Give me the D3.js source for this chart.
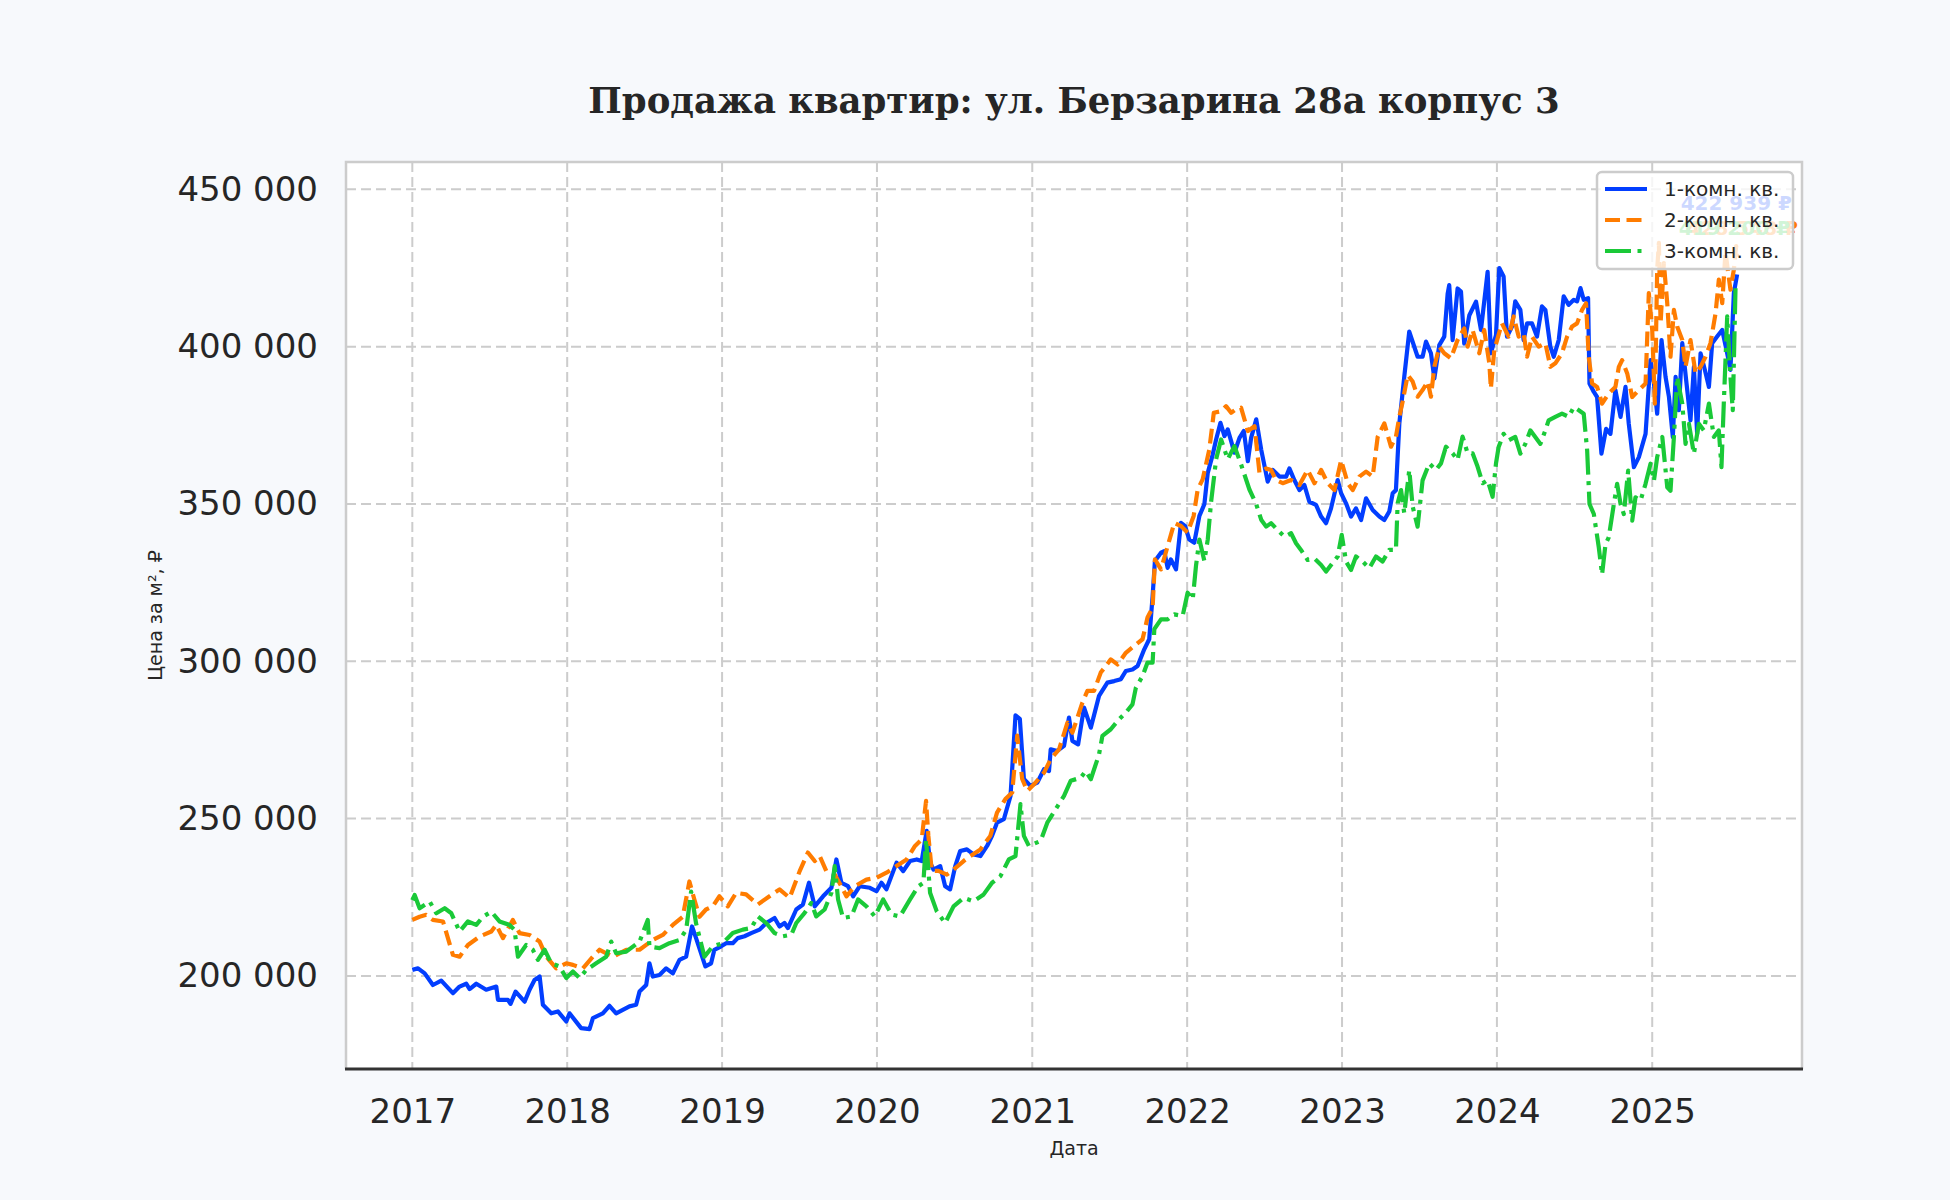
<!DOCTYPE html>
<html>
<head>
<meta charset="utf-8">
<script src="https://cdn.jsdelivr.net/npm/d3@7"></script>
<style>
  html, body { margin: 0; padding: 0; background: #f7f9fc; }
  svg { display: block; }
</style>
</head>
<body>
<div id="chart"></div>
<script>
// Продажа квартир: ул. Берзарина 28а корпус 3 — цена за м² по типу квартир

const seriesNames = ["1-комн. кв.", "2-комн. кв.", "3-комн. кв."];
const yearTicks = [2017, 2018, 2019, 2020, 2021, 2022, 2023, 2024, 2025];
const priceTicks = [200000, 250000, 300000, 350000, 400000, 450000];

// dates are decimal years
const oneRoomYears = [
  2017.000,2017.037,2017.080,2017.133,2017.187,2017.262,2017.305,2017.348,2017.370,2017.413,
  2017.477,2017.542,2017.553,2017.617,2017.634,2017.667,2017.725,2017.757,2017.789,2017.822,
  2017.843,2017.897,2017.940,2017.994,2018.015,2018.090,2018.144,2018.166,2018.230,2018.273,
  2018.316,2018.402,2018.445,2018.467,2018.510,2018.531,2018.553,2018.596,2018.639,2018.682,
  2018.725,2018.768,2018.806,2018.832,2018.892,2018.929,2018.950,2018.994,2019.026,2019.069,
  2019.101,2019.145,2019.188,2019.242,2019.285,2019.339,2019.371,2019.403,2019.425,2019.479,
  2019.522,2019.561,2019.598,2019.652,2019.706,2019.738,2019.770,2019.813,2019.846,2019.889,
  2019.954,2019.997,2020.029,2020.061,2020.126,2020.169,2020.213,2020.256,2020.288,2020.320,
  2020.342,2020.364,2020.407,2020.439,2020.471,2020.504,2020.536,2020.579,2020.622,2020.666,
  2020.709,2020.741,2020.773,2020.817,2020.860,2020.892,2020.920,2020.946,2020.989,2021.032,
  2021.076,2021.108,2021.119,2021.162,2021.205,2021.237,2021.259,2021.296,2021.334,2021.378,
  2021.431,2021.485,2021.529,2021.572,2021.604,2021.647,2021.680,2021.723,2021.755,2021.777,
  2021.792,2021.831,2021.852,2021.874,2021.895,2021.928,2021.960,2021.986,2022.014,2022.046,
  2022.079,2022.111,2022.133,2022.165,2022.187,2022.215,2022.241,2022.262,2022.284,2022.305,
  2022.338,2022.366,2022.392,2022.413,2022.446,2022.478,2022.520,2022.553,2022.596,2022.639,
  2022.660,2022.692,2022.725,2022.757,2022.789,2022.832,2022.865,2022.897,2022.929,2022.972,
  2022.994,2023.026,2023.058,2023.090,2023.123,2023.155,2023.198,2023.241,2023.273,2023.305,
  2023.327,2023.348,2023.370,2023.402,2023.434,2023.467,2023.488,2023.520,2023.542,2023.574,
  2023.596,2023.628,2023.660,2023.682,2023.692,2023.714,2023.746,2023.768,2023.789,2023.822,
  2023.865,2023.897,2023.940,2023.961,2023.994,2024.015,2024.043,2024.065,2024.097,2024.118,
  2024.151,2024.172,2024.194,2024.226,2024.258,2024.290,2024.312,2024.344,2024.366,2024.398,
  2024.430,2024.462,2024.495,2024.516,2024.538,2024.559,2024.587,2024.596,2024.624,2024.645,
  2024.673,2024.703,2024.731,2024.763,2024.796,2024.828,2024.849,2024.882,2024.914,2024.957,
  2024.989,2025.011,2025.032,2025.060,2025.086,2025.108,2025.133,2025.151,2025.172,2025.194,
  2025.219,2025.247,2025.269,2025.290,2025.312,2025.340,2025.366,2025.387,2025.419,2025.452,
  2025.484,2025.505,2025.527,2025.548
];
const oneRoomPrices = [
  201900,202400,200800,197100,198500,194500,196600,197500,195800,197500,
  195600,196600,192400,192400,191100,195000,191800,195600,198700,199800,
  190800,188100,188700,185500,188100,183400,183100,186600,188100,190500,
  188100,190300,190800,195000,197100,204000,199800,200300,202400,200800,
  205100,206100,215700,212000,203000,204000,208300,209400,210400,210400,
  212000,212600,213600,214700,216800,218400,215700,216800,215200,221100,
  222700,229600,222100,225300,228000,237000,229600,228500,225300,228500,
  228000,226900,229600,227500,236000,233300,236500,237000,236500,246100,
  236000,233800,234900,228500,227500,234900,239700,240200,238600,238100,
  241300,244500,248700,249800,257200,282800,281700,262600,260400,261400,
  265700,265100,272000,271500,273100,282100,274700,273600,285300,278900,
  289000,293200,293700,294300,296900,297400,298500,303800,307000,320700,
  331900,334500,335000,329700,332400,329200,344000,343000,338700,337700,
  346200,349900,359900,365700,370500,375800,371600,373700,370000,366300,
  371000,373200,363600,371000,376900,367300,357100,360800,358700,358700,
  361300,357600,354400,356000,350700,349700,346000,343900,348600,357600,
  353400,350200,346000,348600,344900,351800,348100,346000,344900,347600,
  353400,354400,375600,390500,404800,399900,396800,396800,401600,397900,
  389900,400500,403200,416900,419600,402100,418500,417500,401000,410000,
  414300,405300,423800,397900,403700,425000,422300,403200,406400,414400,
  411700,402100,407400,407400,403200,412800,411700,400000,396800,402100,
  416000,413300,414900,414400,418600,414900,415400,388300,385600,384000,
  366000,373900,372300,386200,377700,387200,375500,361700,364900,372300,
  395700,388300,378700,402100,390400,384000,371300,390400,379800,401100,
  389400,376600,393600,372300,397900,392600,387200,401100,403200,405300,
  397900,392600,417000,422939
];

const twoRoomYears = [
  2017.000,2017.047,2017.090,2017.133,2017.198,2017.262,2017.305,2017.359,2017.434,2017.510,
  2017.542,2017.585,2017.649,2017.692,2017.757,2017.822,2017.865,2017.929,2017.994,2018.037,
  2018.101,2018.166,2018.209,2018.295,2018.381,2018.467,2018.553,2018.617,2018.682,2018.746,
  2018.789,2018.822,2018.854,2018.896,2018.940,2018.983,2019.037,2019.091,2019.155,2019.231,
  2019.306,2019.371,2019.436,2019.501,2019.554,2019.598,2019.630,2019.673,2019.727,2019.770,
  2019.803,2019.857,2019.932,2019.997,2020.061,2020.126,2020.191,2020.245,2020.288,2020.316,
  2020.331,2020.353,2020.396,2020.450,2020.493,2020.558,2020.601,2020.666,2020.730,2020.773,
  2020.827,2020.871,2020.903,2020.935,2020.968,2021.011,2021.076,2021.119,2021.173,2021.227,
  2021.259,2021.324,2021.356,2021.399,2021.442,2021.507,2021.550,2021.604,2021.658,2021.712,
  2021.744,2021.777,2021.792,2021.831,2021.874,2021.917,2021.960,2022.003,2022.042,2022.068,
  2022.100,2022.143,2022.172,2022.219,2022.251,2022.284,2022.316,2022.348,2022.392,2022.435,
  2022.467,2022.510,2022.542,2022.574,2022.617,2022.671,2022.725,2022.778,2022.822,2022.865,
  2022.908,2022.951,2022.994,2023.037,2023.069,2023.112,2023.155,2023.198,2023.230,2023.273,
  2023.316,2023.348,2023.370,2023.391,2023.424,2023.456,2023.488,2023.520,2023.553,2023.574,
  2023.596,2023.628,2023.660,2023.703,2023.746,2023.789,2023.811,2023.843,2023.886,2023.918,
  2023.951,2023.961,2023.983,2024.032,2024.075,2024.108,2024.140,2024.172,2024.194,2024.226,
  2024.269,2024.312,2024.344,2024.376,2024.419,2024.452,2024.484,2024.516,2024.548,2024.574,
  2024.591,2024.613,2024.645,2024.677,2024.720,2024.763,2024.785,2024.806,2024.839,2024.871,
  2024.914,2024.957,2024.978,2025.000,2025.017,2025.032,2025.043,2025.054,2025.075,2025.097,
  2025.118,2025.140,2025.161,2025.194,2025.215,2025.247,2025.280,2025.312,2025.344,2025.376,
  2025.409,2025.430,2025.452,2025.473,2025.505,2025.527,2025.542,2025.548
];
const twoRoomPrices = [
  217800,218800,219400,217800,217300,206700,206100,209800,212500,214100,
  216200,212000,217800,213600,213000,210900,206100,202400,204000,203500,
  202400,206100,208300,206100,208300,208300,211400,213000,216200,218800,
  230000,224100,218800,221100,222100,225300,222100,226400,225900,222700,
  225300,227500,224800,233300,239200,236500,238100,233300,232200,228500,
  225300,228500,230600,231200,232800,234900,237000,241300,243400,255600,
  244500,233400,233400,232200,233800,236500,238100,240200,244500,251900,
  256200,258300,276400,262600,258800,260900,264600,268900,272000,280500,
  277300,286900,290600,290600,296400,300600,299000,302700,304900,307000,
  313900,317000,332400,329200,336600,344000,343000,340900,346200,354600,
  357800,367300,379000,379500,381100,379000,380100,380600,373200,374700,
  359900,361300,360800,357600,356600,357600,356000,360800,356600,360800,
  356600,354400,363900,356600,354400,358700,360300,358700,371300,375600,
  368200,371400,377700,382500,391000,388900,384100,386200,388900,384100,
  393600,400000,397900,396300,402100,405800,400000,405300,397900,405300,
  394700,386700,399000,407400,403200,409600,403200,404300,396800,403200,
  400000,401100,393600,394700,397900,403200,406400,407400,411700,413800,
  396800,388300,387200,381900,385100,387200,393600,395700,391500,384000,
  386200,388300,417000,405300,381900,424500,433000,407400,426600,413800,
  396800,411700,406400,402100,393600,402100,391500,393600,396800,401100,
  410600,421300,413800,430000,418100,424500,432000,428548
];

const threeRoomYears = [
  2017.000,2017.015,2017.047,2017.112,2017.155,2017.209,2017.252,2017.305,2017.359,2017.413,
  2017.456,2017.510,2017.563,2017.628,2017.660,2017.682,2017.735,2017.778,2017.811,2017.854,
  2017.897,2017.951,2017.994,2018.037,2018.080,2018.123,2018.187,2018.252,2018.284,2018.316,
  2018.381,2018.467,2018.520,2018.531,2018.596,2018.660,2018.725,2018.768,2018.800,2018.832,
  2018.886,2018.940,2019.004,2019.069,2019.134,2019.188,2019.231,2019.285,2019.339,2019.393,
  2019.447,2019.479,2019.533,2019.576,2019.608,2019.662,2019.706,2019.727,2019.749,2019.781,
  2019.835,2019.878,2019.932,2019.986,2020.040,2020.094,2020.148,2020.213,2020.266,2020.299,
  2020.316,2020.342,2020.385,2020.439,2020.493,2020.558,2020.622,2020.687,2020.741,2020.795,
  2020.849,2020.892,2020.924,2020.946,2020.978,2021.054,2021.097,2021.151,2021.205,2021.248,
  2021.313,2021.345,2021.378,2021.431,2021.453,2021.507,2021.561,2021.604,2021.647,2021.669,
  2021.712,2021.744,2021.777,2021.788,2021.831,2021.874,2021.917,2021.971,2022.003,2022.036,
  2022.057,2022.079,2022.111,2022.133,2022.154,2022.187,2022.219,2022.262,2022.305,2022.348,
  2022.402,2022.446,2022.478,2022.510,2022.542,2022.585,2022.628,2022.671,2022.703,2022.735,
  2022.778,2022.822,2022.865,2022.897,2022.929,2022.972,2022.998,2023.026,2023.058,2023.090,
  2023.133,2023.176,2023.219,2023.262,2023.305,2023.348,2023.359,2023.381,2023.402,2023.434,
  2023.456,2023.488,2023.520,2023.563,2023.606,2023.639,2023.671,2023.714,2023.746,2023.778,
  2023.811,2023.843,2023.875,2023.908,2023.940,2023.972,2023.994,2024.011,2024.043,2024.075,
  2024.118,2024.151,2024.183,2024.215,2024.247,2024.280,2024.312,2024.333,2024.376,2024.419,
  2024.462,2024.495,2024.527,2024.559,2024.581,2024.596,2024.624,2024.656,2024.677,2024.699,
  2024.720,2024.753,2024.774,2024.796,2024.817,2024.845,2024.871,2024.892,2024.925,2024.957,
  2024.989,2025.011,2025.032,2025.065,2025.097,2025.118,2025.140,2025.161,2025.194,2025.215,
  2025.237,2025.269,2025.301,2025.333,2025.366,2025.398,2025.430,2025.447,2025.462,2025.484,
  2025.505,2025.520,2025.538
];
const threeRoomPrices = [
  224100,225700,221500,223600,219900,221500,219900,214100,217300,216200,
  218800,220400,217300,216200,214600,206100,209800,208300,205100,208300,
  204000,203000,199300,201400,199300,201900,204000,206100,210900,207200,
  207700,210900,217800,209300,208800,210400,211400,214600,226800,216700,
  206100,209400,210400,213600,214700,215200,218900,216800,213600,212600,
  213100,216800,220000,223200,218900,221100,226400,234900,224300,218400,
  218900,224300,222100,218900,224300,219500,218900,224300,228500,229600,
  243400,226400,220500,216800,222100,224800,223700,225900,229600,231700,
  237000,238100,254600,244500,241300,242900,248700,253000,257200,262000,
  263000,265100,262500,270400,276300,278400,281600,283700,286300,291600,
  295300,299600,299600,310200,313300,313300,314900,314400,321800,319700,
  330300,338700,331900,338700,350400,364200,370500,364200,368400,362600,
  354600,349900,345000,342800,343900,341700,339600,340700,337500,335400,
  332200,332700,330600,328500,330600,333300,340200,331700,329000,333300,
  331700,329600,333300,331700,335400,335400,350200,354400,347000,360800,
  349200,342800,357500,362900,360800,362900,368200,366100,364000,371400,
  366100,366100,361900,356600,357600,352300,362900,368100,372300,370200,
  371300,366000,369100,373400,371300,369100,373400,376600,377700,378700,
  377700,380800,379800,378700,367000,350000,346800,336200,327600,337200,
  339400,350000,356400,350000,346800,360600,344700,352100,351100,356400,
  362800,357400,364900,371300,355300,354200,371300,390400,381900,369100,
  375500,366000,375500,373400,381900,371300,373400,361700,381900,409600,
  390400,379800,419200
];

const xLimits = [2016.573, 2025.967];
const yLimits = [170400, 458700];

(function () {
  const width = 1950;
  const height = 1200;
  const margin = { top: 162, right: 148, bottom: 131, left: 346 };
  const innerW = width - margin.left - margin.right;
  const innerH = height - margin.top - margin.bottom;

  const colors = ["#023eff", "#ff7c00", "#1ac938"];
  const dashes = [null, "15,6.5", "26,6.5,4,6.5"];

  // decimal year -> Date
  function toDate(y) {
    const yr = Math.floor(y);
    const start = new Date(yr, 0, 1);
    const end = new Date(yr + 1, 0, 1);
    return new Date(start.getTime() + (y - yr) * (end - start));
  }

  const series = [
    { name: seriesNames[0], years: oneRoomYears, prices: oneRoomPrices },
    { name: seriesNames[1], years: twoRoomYears, prices: twoRoomPrices },
    { name: seriesNames[2], years: threeRoomYears, prices: threeRoomPrices },
  ].map((s, i) => ({
    name: s.name,
    color: colors[i],
    dash: dashes[i],
    values: s.years.map((y, j) => ({ date: toDate(y), price: s.prices[j] })),
  }));

  const fmtPrice = (v) => d3.format(",")(v).replace(/,/g, " ");

  const svg = d3
    .select("#chart")
    .append("svg")
    .attr("width", width)
    .attr("height", height)
    .attr("viewBox", [0, 0, width, height])
    .style("background", "#f7f9fc")
    .style("font-family", "'DejaVu Sans', sans-serif");

  const g = svg
    .append("g")
    .attr("transform", `translate(${margin.left},${margin.top})`);

  // scales
  const xScale = d3
    .scaleTime()
    .domain(xLimits.map(toDate))
    .range([0, innerW]);

  const yScale = d3.scaleLinear().domain(yLimits).range([innerH, 0]);

  // plot background
  g.append("rect")
    .attr("width", innerW)
    .attr("height", innerH)
    .attr("fill", "#ffffff");

  // grid
  g.append("g")
    .selectAll("line")
    .data(yearTicks)
    .join("line")
    .attr("x1", (d) => xScale(toDate(d)))
    .attr("x2", (d) => xScale(toDate(d)))
    .attr("y1", 0)
    .attr("y2", innerH)
    .attr("stroke", "#cccccc")
    .attr("stroke-width", 2)
    .attr("stroke-dasharray", "10,5");

  g.append("g")
    .selectAll("line")
    .data(priceTicks)
    .join("line")
    .attr("x1", 0)
    .attr("x2", innerW)
    .attr("y1", (d) => yScale(d))
    .attr("y2", (d) => yScale(d))
    .attr("stroke", "#cccccc")
    .attr("stroke-width", 2)
    .attr("stroke-dasharray", "10,5");

  // lines
  svg
    .append("defs")
    .append("clipPath")
    .attr("id", "plot-clip")
    .append("rect")
    .attr("width", innerW)
    .attr("height", innerH);

  const line = d3
    .line()
    .x((d) => xScale(d.date))
    .y((d) => yScale(d.price));

  g.append("g")
    .attr("clip-path", "url(#plot-clip)")
    .selectAll("path")
    .data(series)
    .join("path")
    .attr("d", (d) => line(d.values))
    .attr("fill", "none")
    .attr("stroke", (d) => d.color)
    .attr("stroke-width", 4.2)
    .attr("stroke-linejoin", "round")
    .attr("stroke-dasharray", (d) => d.dash);

  // last value labels (sit under the half-transparent legend, as in the source)
  const labelPos = [
    { dx: -10, y: 48 },
    { dx: -4, y: 73 },
    { dx: -12, y: 73 },
  ];
  g.append("g")
    .selectAll("text")
    .data(series)
    .join("text")
    .attr("x", (d, i) => innerW + labelPos[i].dx)
    .attr("y", (d, i) => labelPos[i].y)
    .attr("text-anchor", "end")
    .attr("font-size", "20px")
    .attr("font-weight", "bold")
    .attr("fill", (d) => d.color)
    .text((d) => fmtPrice(d.values[d.values.length - 1].price) + " ₽");

  // axes
  g.append("g")
    .attr("transform", `translate(0,${innerH})`)
    .call(
      d3
        .axisBottom(xScale)
        .tickValues(yearTicks.map(toDate))
        .tickFormat(d3.timeFormat("%Y"))
        .tickSize(0)
        .tickPadding(30)
    )
    .call((a) => a.select(".domain").remove())
    .call((a) =>
      a
        .selectAll(".tick text")
        .attr("font-size", "34px")
        .attr("font-family", "'DejaVu Sans', sans-serif")
        .attr("fill", "#262626")
    );

  g.append("g")
    .call(
      d3
        .axisLeft(yScale)
        .tickValues(priceTicks)
        .tickFormat(fmtPrice)
        .tickSize(0)
        .tickPadding(28)
    )
    .call((a) => a.select(".domain").remove())
    .call((a) =>
      a
        .selectAll(".tick text")
        .attr("font-size", "34px")
        .attr("font-family", "'DejaVu Sans', sans-serif")
        .attr("fill", "#262626")
    );

  // spines
  g.append("path")
    .attr("d", `M0,${innerH}V0H${innerW}V${innerH}`)
    .attr("fill", "none")
    .attr("stroke", "#cccccc")
    .attr("stroke-width", 2.5);

  g.append("line")
    .attr("x1", -1)
    .attr("x2", innerW + 1)
    .attr("y1", innerH)
    .attr("y2", innerH)
    .attr("stroke", "#333333")
    .attr("stroke-width", 3);

  // axis labels
  svg
    .append("text")
    .attr("transform", `translate(162,${margin.top + innerH / 2}) rotate(-90)`)
    .attr("text-anchor", "middle")
    .attr("font-size", "19px")
    .attr("fill", "#262626")
    .text("Цена за м², ₽");

  svg
    .append("text")
    .attr("x", margin.left + innerW / 2)
    .attr("y", 1155)
    .attr("text-anchor", "middle")
    .attr("font-size", "19px")
    .attr("fill", "#262626")
    .text("Дата");

  // title
  svg
    .append("text")
    .attr("x", margin.left + innerW / 2)
    .attr("y", 113)
    .attr("text-anchor", "middle")
    .attr("font-family", "'DejaVu Serif', serif")
    .attr("font-weight", "bold")
    .attr("font-size", "35.5px")
    .attr("fill", "#262626")
    .text("Продажа квартир: ул. Берзарина 28а корпус 3");

  // legend
  const legend = g
    .append("g")
    .attr("class", "legend")
    .attr("transform", `translate(${innerW - 205},10)`);

  legend
    .append("rect")
    .attr("width", 196)
    .attr("height", 97)
    .attr("rx", 5)
    .attr("fill", "#ffffff")
    .attr("fill-opacity", 0.8)
    .attr("stroke", "#cccccc")
    .attr("stroke-width", 2.5);

  const legendItems = legend
    .selectAll(".legend-item")
    .data(series)
    .enter()
    .append("g")
    .attr("class", "legend-item")
    .attr("transform", (d, i) => `translate(0, ${17 + i * 31})`);

  legendItems
    .append("line")
    .attr("x1", 8)
    .attr("x2", 50)
    .attr("stroke", (d) => d.color)
    .attr("stroke-width", 4.2)
    .attr("stroke-dasharray", (d) => d.dash);

  legendItems
    .append("text")
    .attr("x", 67)
    .attr("y", 7)
    .attr("font-size", "20px")
    .attr("fill", "#262626")
    .text((d) => d.name);
})();
</script>
</body>
</html>
